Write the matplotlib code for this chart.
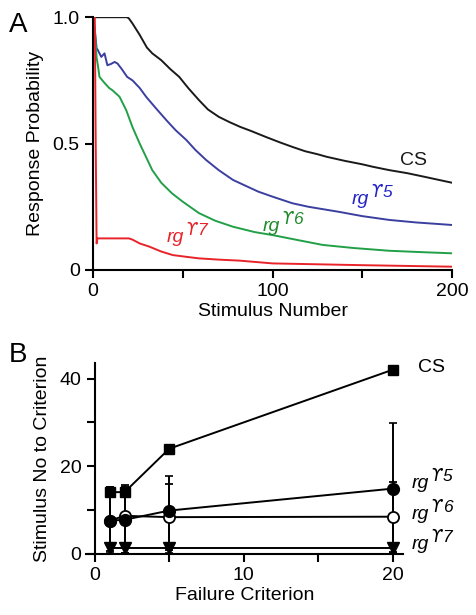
import matplotlib
matplotlib.use('Agg')
import matplotlib.pyplot as plt
import numpy as np

plt.rcParams.update({
    'font.family': ['Liberation Sans', 'DejaVu Sans'],
    'font.size': 14,
    'axes.linewidth': 1.5,
    'xtick.major.width': 1.5,
    'ytick.major.width': 1.5,
    'xtick.minor.width': 1.5,
    'ytick.minor.width': 1.5,
    'xtick.major.size': 6,
    'ytick.major.size': 6,
    'xtick.minor.size': 6,
    'ytick.minor.size': 6,
    'xtick.direction': 'out',
    'ytick.direction': 'out',
})

# ---- Panel A data: response probability vs stimulus number ----
cs_x = [0, 19, 20, 22, 26, 30, 33, 38, 43, 48, 53, 59, 64, 70, 76, 82, 88, 96, 104,
        111, 118, 125, 130, 140, 150, 156, 165, 175, 185, 200]
cs_y = [1.0, 1.0, 0.995, 0.975, 0.93, 0.88, 0.857, 0.83, 0.795, 0.764, 0.72, 0.672,
        0.635, 0.606, 0.585, 0.566, 0.55, 0.527, 0.505, 0.487, 0.47, 0.458, 0.448,
        0.432, 0.418, 0.408, 0.395, 0.383, 0.368, 0.345]

g5_x = [0, 1, 2, 2.7, 4.6, 6.4, 8, 10, 12, 13.6, 16, 19, 22, 26, 29.6, 35, 40.8, 46,
        52, 57, 63, 70, 78, 85, 92, 100, 111, 120, 137, 150, 165, 180, 200]
g5_y = [1.0, 0.95, 0.877, 0.87, 0.843, 0.857, 0.81, 0.815, 0.823, 0.817, 0.795,
        0.764, 0.75, 0.72, 0.685, 0.64, 0.593, 0.553, 0.514, 0.475, 0.435, 0.395,
        0.356, 0.333, 0.31, 0.29, 0.264, 0.25, 0.23, 0.213, 0.198, 0.188, 0.178]

g6_x = [0, 1, 2, 2.7, 3.6, 6.4, 9, 11, 14.8, 18.5, 22, 26, 30, 33, 38, 44, 50, 59,
        68, 78, 90, 100, 115, 128, 145, 165, 185, 200]
g6_y = [1.0, 0.95, 0.84, 0.81, 0.764, 0.74, 0.72, 0.71, 0.685, 0.632, 0.565, 0.5,
        0.44, 0.395, 0.345, 0.303, 0.27, 0.225, 0.195, 0.171, 0.15, 0.138, 0.117,
        0.099, 0.087, 0.076, 0.07, 0.066]

g7_x = [0, 1, 1.5, 2, 2.5, 20, 22, 26, 31.5, 38, 44.4, 52, 59, 70, 81.6, 100, 150, 200]
g7_y = [1.0, 1.0, 0.5, 0.105, 0.125, 0.125, 0.12, 0.105, 0.092, 0.073, 0.059,
        0.052, 0.046, 0.041, 0.037, 0.026, 0.019, 0.013]

# ---- Panel B data: stimulus number to criterion vs failure criterion ----
crit = [1, 2, 5, 20]
cs_n = [14.1, 14.1, 24.0, 42.0]
cs_err = [1.2, 1.2, 0.5, 0.5]
g5_n = [7.6, 7.8, 9.9, 14.9]
g5_err = [7.6, 7.5, 7.8, 15.0]
g6_n = [7.6, 8.7, 8.4, 8.5]
g6_err = [7.0, 7.0, 7.5, 8.0]
g7_n = [1.3, 1.3, 1.3, 1.3]
g7_err = [1.0, 1.0, 1.0, 1.0]

c_black = '#1a1a1a'
c_blue = '#3b3f9f'
c_green = '#22a048'
c_red = '#e8232a'


def genotype_label(ax, x, y, num, color):
    # italic "rg" with a raised gamma-number, like the paper's labels
    ax.annotate('rg', xy=(x, y), ha='left', va='baseline', style='italic',
                fontsize=14, color=color, annotation_clip=False)
    ax.annotate('\u03d2', xy=(x, y), xytext=(13.5, 5), textcoords='offset points',
                ha='left', va='baseline', style='italic', fontsize=12,
                family=['DejaVu Sans'], color=color, annotation_clip=False)
    ax.annotate(num, xy=(x, y), xytext=(22, 5), textcoords='offset points',
                ha='left', va='baseline', style='italic', fontsize=12.5,
                color=color, annotation_clip=False)


fig = plt.figure(figsize=(4.77, 6.15), dpi=100)

# ---------------- Panel A ----------------
axA = fig.add_axes([0.195, 0.561, 0.753, 0.411])
axA.plot(cs_x, cs_y, color=c_black, lw=1.4)
axA.plot(g5_x, g5_y, color=c_blue, lw=1.4)
axA.plot(g6_x, g6_y, color=c_green, lw=1.4)
axA.plot(g7_x, g7_y, color=c_red, lw=1.4)
axA.set_xlim(0, 200)
axA.set_ylim(0, 1.0)
axA.set_xticks([0, 100, 200])
axA.set_xticklabels(['0', '100', '200'])
axA.set_xticks([50, 150], minor=True)
axA.set_yticks([0, 0.5, 1.0])
axA.set_yticklabels(['0', '0.5', '1.0'])
for s in ['top', 'right']:
    axA.spines[s].set_visible(False)
axA.set_xlabel('Stimulus Number', labelpad=2)
axA.set_ylabel('Response Probability', labelpad=6)

axA.text(171, 0.435, 'CS', color=c_black, ha='left', va='center')
genotype_label(axA, 144, 0.262, '5', '#2323c8')
genotype_label(axA, 94.5, 0.155, '6', '#1f8a2a')
genotype_label(axA, 41, 0.11, '7', c_red)

# ---------------- Panel B ----------------
axB = fig.add_axes([0.180, 0.0992, 0.665, 0.311])
ebkw = dict(color='black', lw=1.4, capsize=3, elinewidth=1.4, capthick=1.2, clip_on=False)
axB.errorbar(crit, g7_n, yerr=g7_err, marker='v', ms=8, mfc='black', mec='black', **ebkw)
axB.errorbar(crit, g6_n, yerr=g6_err, marker='o', ms=8, mfc='white', mec='black', mew=1.3, **ebkw)
axB.errorbar(crit, g5_n, yerr=g5_err, marker='o', ms=8.5, mfc='black', mec='black', **ebkw)
axB.errorbar(crit, cs_n, yerr=cs_err, marker='s', ms=7, mfc='black', mec='black', **ebkw)
axB.set_xlim(-0.6, 20.7)
axB.set_ylim(0, 43.6)
axB.set_xticks([0, 10, 20])
axB.set_xticks([5, 15], minor=True)
axB.set_yticks([0, 20, 40])
axB.set_yticks([10, 30], minor=True)
for s in ['top', 'right']:
    axB.spines[s].set_visible(False)
axB.spines['left'].set_position(('data', 0))
axB.spines['left'].set_bounds(0, 43.6)
axB.set_xlabel('Failure Criterion', labelpad=2)
axB.set_ylabel('Stimulus No to Criterion', labelpad=6)

axB.text(21.7, 42.5, 'CS', ha='left', va='center', clip_on=False)
genotype_label(axB, 21.3, 15.0, '5', 'black')
genotype_label(axB, 21.3, 8.0, '6', 'black')
genotype_label(axB, 21.3, 1.2, '7', 'black')

fig.text(0.018, 0.948, 'A', fontsize=20, ha='left', va='baseline')
fig.text(0.018, 0.412, 'B', fontsize=20, ha='left', va='baseline')

fig.savefig('out.png', dpi=100)
